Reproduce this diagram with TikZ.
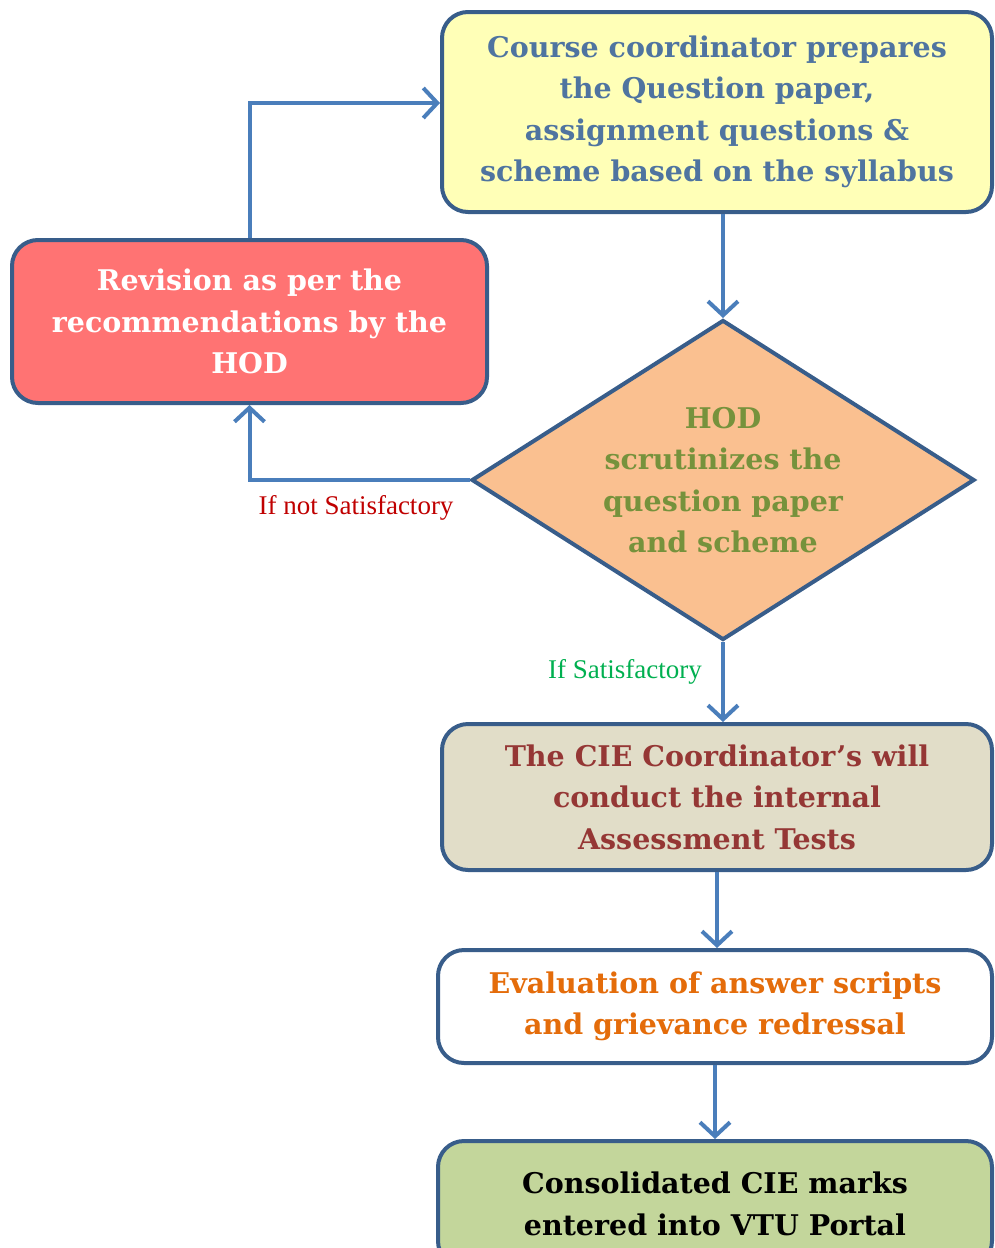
\documentclass[tikz,border=0pt]{standalone}
\usepackage{fontspec}
\setmainfont{DejaVu Serif}
\newfontfamily\labelfont{Liberation Serif}
\usetikzlibrary{shapes.geometric,arrows.meta}
\definecolor{bordc}{HTML}{385D8A}
\definecolor{arrc}{HTML}{4A7EBB}
\definecolor{yellowfill}{HTML}{FFFFB7}
\definecolor{bluetext}{HTML}{4F74A0}
\definecolor{redfill}{HTML}{FF7373}
\definecolor{peach}{HTML}{FAC090}
\definecolor{olive}{HTML}{76923C}
\definecolor{beige}{HTML}{E1DDC8}
\definecolor{darkred}{HTML}{953735}
\definecolor{orangetext}{HTML}{E46C0A}
\definecolor{greenfill}{HTML}{C3D69B}
\definecolor{notsat}{HTML}{C00000}
\definecolor{sat}{HTML}{00B050}
\begin{document}
\begin{tikzpicture}[x=1pt,y=-1pt,
  txt/.style={font=\bfseries\fontsize{28.5}{41.5}\selectfont},
  box/.style={draw=bordc, line width=4pt, rounded corners=26pt, align=center, inner sep=0pt, txt},
  flow/.style={draw=arrc, line width=4pt, -{Straight Barb[length=14pt,width=30pt]}},
  lbl/.style={font=\labelfont\fontsize{27}{30}\selectfont, inner sep=0pt}]
\useasboundingbox (0,0) rectangle (994,1248);
\clip (0,0) rectangle (994,1248);
\fill[white] (0,0) rectangle (994,1248);
\node[box, fill=yellowfill, text=bluetext, minimum width=550pt, minimum height=200pt] (top) at (717,112)
  {Course coordinator prepares\\the Question paper,\\assignment questions \&\\scheme based on the syllabus};
\node[box, fill=redfill, text=white, minimum width=475pt, minimum height=163pt] (rev) at (249.5,321.5)
  {Revision as per the\\recommendations by the\\HOD};
\node[diamond, draw=bordc, line width=4pt, fill=peach, minimum width=503pt, minimum height=320pt, inner sep=0pt] (hod) at (723,480) {};
\node[align=center, text=olive, txt] (hodtext) at (hod.center)
  {HOD\\scrutinizes the\\question paper\\and scheme};
\node[box, fill=beige, text=darkred, minimum width=550pt, minimum height=146pt] (cie) at (717,797)
  {The CIE Coordinator’s will\\conduct the internal\\Assessment Tests};
\node[box, fill=white, text=orangetext, minimum width=554pt, minimum height=113pt] (eval) at (715,1006.5)
  {Evaluation of answer scripts\\and grievance redressal};
\node[box, fill=greenfill, text=black, minimum width=554pt, minimum height=126pt] (cons) at (715,1204)
  {Consolidated CIE marks\\entered into VTU Portal};
\node[lbl, text=notsat] (nsl) at (356,508) {If not Satisfactory};
\node[lbl, text=sat] (sl) at (625,672) {If Satisfactory};
\draw[flow] (top.south -| hod.north) -- (hod.north);
\draw[flow] (hod.west) -| (rev.south);
\draw[flow] (rev.north) |- ([yshift=9pt]top.west);
\draw[flow] (hod.south) -- (cie.north -| hod.south);
\draw[flow] (cie.south) -- (cie.south |- eval.north);
\draw[flow] (eval.south) -- (eval.south |- cons.north);
\end{tikzpicture}
\end{document}
